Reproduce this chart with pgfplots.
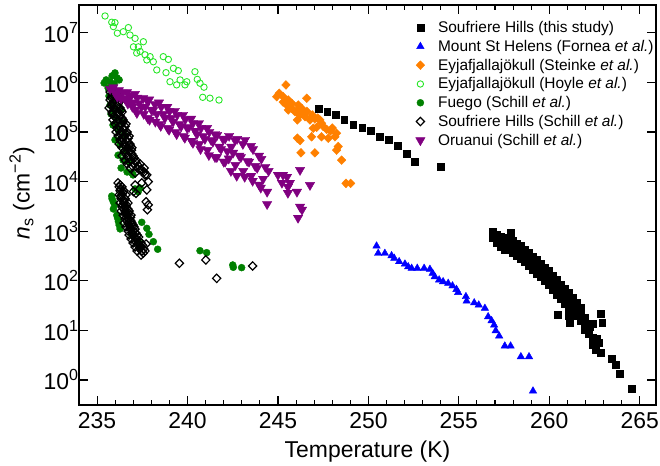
\documentclass[border=0pt]{standalone}
\usepackage{pgfplots}
\pgfplotsset{compat=1.18}
\usepackage{fontspec}
\setmainfont{Liberation Sans}
\definecolor{ltgreen}{RGB}{40,230,40}
\definecolor{dkgreen}{RGB}{0,128,0}
\definecolor{orng}{RGB}{255,128,0}
\definecolor{purp}{RGB}{128,0,128}
\begin{document}
\begin{tikzpicture}
\useasboundingbox (-79bp,-61bp) rectangle (581bp,405bp);
\begin{axis}[
  at={(0,0)}, anchor=south west,
  scale only axis, width=577bp, height=400bp,
  xmin=234, xmax=265.9,
  ymode=log, ymin=0.313, ymax=3.63e7,
  log basis y=10,
  xtick={235,240,...,265},
  minor x tick num=4,
  ytick={1,10,100,1000,1e4,1e5,1e6,1e7},
  /pgf/number format/assume math mode=true,
  log number format basis/.code 2 args={#1\textsuperscript{\pgfmathprintnumber{#2}}},
  tick align=inside,
  major tick length=9bp, minor tick length=5bp,
  every tick/.style={line width=1.1bp, black},
  axis line style={line width=1.4bp},
  tick label style={font=\fontsize{23}{26}\selectfont},
  label style={font=\fontsize{23}{26}\selectfont},
  xticklabel style={yshift=-4bp},
  yticklabel style={xshift=3bp},
  xlabel={Temperature (K)},
  xlabel style={yshift=-5bp},
  ylabel={\textit{n}\textsubscript{s} (cm\textsuperscript{−2})},
  ylabel style={at={(axis description cs:-0.099,0.53)}, anchor=center},
  legend cell align=left,
  legend image code/.code={\path (-5bp,0bp) (5bp,0bp); \draw[#1] plot coordinates {(0bp,0bp)};},
  legend style={at={(axis description cs:0.5823,0.9635)}, anchor=north west,
    draw=none, fill=none, inner sep=0pt, column sep=11bp, row sep=3.1bp,
    nodes={inner sep=1.5bp}, font=\fontsize{15.5}{18.5}\selectfont},
]
% Soufriere Hills, this study
\addplot[only marks, mark=square*, mark size=3.4bp, color=black] coordinates {
 (247.23,3.0e5) (247.72,2.6e5) (248.19,2.2e5) (248.66,1.8e5) (249.16,1.4e5)
 (249.66,1.2e5) (250.14,1.07e5) (250.64,8.1e4) (251.13,6.9e4) (251.63,5.2e4)
 (252.11,3.6e4) (252.57,2.5e4) (254.00,1.97e4)
 (256.88,964) (256.88,729) (257.10,838) (257.10,578)
 (257.32,764) (257.32,634) (257.32,480)
 (257.54,729) (257.54,527) (257.54,418)
 (257.76,665) (257.76,458) (257.87,920)
 (257.98,634) (257.98,480) (257.98,363)
 (258.20,552) (258.20,418) (258.20,316)
 (258.43,503) (258.43,363) (258.43,275)
 (258.65,418) (258.65,302) (258.65,239)
 (258.87,363) (258.87,263) (258.87,199)
 (259.09,302) (259.09,218) (259.09,165)
 (259.31,263) (259.31,181) (259.31,137)
 (259.53,218) (259.53,158) (259.53,119)
 (259.75,181) (259.75,131) (259.75,99)
 (259.97,158) (259.97,109) (259.97,82)
 (260.19,125) (260.19,90) (260.19,65)
 (260.41,104) (260.41,72) (260.41,52)
 (260.64,82) (260.64,59) (260.64,43)
 (260.86,68) (260.86,49) (260.86,34)
 (261.08,57) (261.08,41) (261.08,28.3)
 (261.30,45) (261.30,32.5) (261.30,23.5)
 (261.52,37) (261.52,27.0) (261.52,19.5)
 (261.74,28.3) (261.74,20.4) (261.74,15.5)
 (261.96,17.8) (261.96,12.8) (261.96,10.2)
 (262.18,11.7) (262.18,8.46)
 (262.40,7.03) (262.40,5.08)
 (262.57,4.03)
 (260.47,20.4) (261.08,19.5) (261.13,14.1) (262.24,11.7) (262.40,13.5)
 (262.83,21.4) (262.92,14.1) (262.62,6.71) (262.73,5.57) (262.83,3.50)
 (263.44,2.65) (263.67,2.01) (263.90,1.32) (264.54,0.66)
};
\addlegendentry{Soufriere Hills (this study)}
% Mount St Helens
\addplot[only marks, mark=triangle*, mark size=4.3bp, color=blue] coordinates {
 (250.45,503) (250.54,358) (250.91,358) (251.28,321) (251.43,284)
 (251.70,243) (252.02,218) (252.20,192) (252.39,179) (252.70,179)
 (253.08,179) (253.40,171) (253.55,142) (253.67,121) (253.91,104)
 (254.13,96) (254.41,89) (254.65,79) (254.87,67) (254.96,58)
 (255.39,48) (255.43,39) (255.85,36) (256.10,32.5) (256.44,27.9)
 (256.62,18.9) (256.81,15.7) (256.95,12.8) (257.04,9.86) (257.23,7.71)
 (257.54,4.85) (257.86,4.85) (258.43,2.95) (258.88,2.95) (259.10,0.60)
};
\addlegendentry{Mount St Helens (Fornea \textit{et al.})}
% Eyjafjallajokull, Steinke
\addplot[only marks, mark=diamond*, mark size=4.4bp, mark options={xscale=1.3}, color=orng] coordinates {
 (245.44,8.87e5) (245.07,6.03e5) (244.93,5.15e5) (245.29,5.15e5) (245.57,4.42e5)
 (245.76,3.79e5) (245.48,3.50e5) (246.59,4.78e5) (246.12,3.50e5) (246.31,3.00e5)
 (245.94,2.57e5) (246.22,2.20e5) (246.49,2.03e5) (246.77,1.75e5) (246.07,1.75e5)
 (247.04,1.83e5) (247.32,1.75e5) (247.41,1.50e5) (246.95,1.19e5) (247.14,1.24e5)
 (247.69,1.13e5) (248.24,9.4e4) (246.86,8.0e4) (247.41,8.0e4) (247.78,7.5e4)
 (248.15,8.0e4) (246.07,7.5e4) (246.22,6.7e4) (248.33,5.1e4) (248.24,4.3e4)
 (246.27,3.8e4) (247.04,3.8e4) (248.52,2.7e4) (248.76,9.2e3) (249.02,9.2e3)
 (246.03,2.57e5) (245.57,2.78e5) (245.29,4.0e5) (245.76,3.0e5) (246.40,2.5e5)
 (246.60,2.6e5) (246.90,2.2e5) (247.20,1.9e5) (247.50,1.3e5) (247.90,1.05e5)
 (248.00,1.2e5)
};
\addlegendentry{Eyjafjallajökull (Steinke \textit{et al.})}
% Eyjafjallajokull, Hoyle
\addplot[only marks, mark=o, mark size=3.2bp, mark options={line width=0.9bp}, color=ltgreen] coordinates {
 (235.44,2.18e7) (235.81,1.63e7) (235.99,1.60e7) (235.90,1.33e7) (236.12,9.8e6)
 (236.45,1.05e7) (236.73,1.27e7) (236.82,9.0e6) (237.10,7.7e6) (237.01,5.2e6)
 (237.28,5.2e6) (237.56,6.6e6) (237.19,3.9e6) (237.38,4.2e6) (237.65,3.6e6)
 (237.93,3.3e6) (237.75,2.83e6) (238.11,2.6e6) (238.30,1.78e6) (238.66,3.3e6)
 (238.94,2.9e6) (238.81,1.57e6) (239.22,1.92e6) (239.49,1.72e6) (239.03,1.03e6)
 (239.40,8.9e5) (239.59,1.12e6) (239.86,8.9e5) (239.96,1.03e6) (240.41,1.64e6)
 (240.54,1.15e6) (240.69,9.6e5) (240.91,8.0e5) (240.84,5.0e5) (241.24,4.8e5)
 (241.74,4.4e5)
};
\addlegendentry{Eyjafjallajökull (Hoyle \textit{et al.})}
% Fuego, Schill
\addplot[only marks, mark=*, mark size=3.5bp, color=dkgreen] coordinates {
 (235.99,1.55e6) (235.83,1.35e6) (236.10,1.23e6) (235.50,1.12e6) (235.72,1.02e6)
 (235.94,9.3e5) (236.22,1.12e6) (235.39,9.7e5) (235.61,7.7e5) (235.88,7.0e5)
 (236.16,6.4e5) (235.66,5.3e5) (235.94,4.4e5) (236.27,4.8e5) (235.72,3.5e5)
 (235.99,3.05e5) (236.33,2.78e5) (235.77,2.31e5) (236.05,1.92e5) (236.38,1.59e5)
 (235.88,1.38e5) (236.16,1.10e5) (236.49,8.7e4) (235.99,6.9e4) (236.27,5.5e4)
 (236.60,4.3e4) (236.16,3.4e4) (236.44,2.7e4) (236.77,2.5e4) (236.33,1.88e4)
 (236.66,1.56e4) (236.99,1.36e4) (236.92,1.49e4) (237.10,7.1e3) (237.27,6.2e3)
 (237.38,7.4e3)
 (235.81,5.1e3) (235.83,4.5e3) (235.90,3.9e3) (235.97,3.4e3) (235.90,2.8e3)
 (236.09,2.1e3) (236.13,1.85e3) (236.18,1.56e3) (236.22,1.33e3) (236.27,1.11e3)
 (237.47,1.51e3) (237.75,1.14e3) (237.87,865) (236.92,838) (238.11,614)
 (238.35,432) (237.28,614) (240.69,404) (241.06,369) (242.50,208)
 (242.53,187) (242.99,184)
};
\addlegendentry{Fuego (Schill \textit{et al.})}
% Soufriere Hills, Schill
\addplot[only marks, mark=diamond, mark size=4.2bp, mark options={xscale=1.3, line width=1.2bp}, color=black] coordinates {
 (235.72,6.4e5) (236.05,6.4e5) (235.83,5.3e5) (236.16,5.3e5)
 (235.72,4.4e5) (235.99,4.4e5) (236.27,4.4e5) (235.83,3.67e5) (236.16,3.67e5)
 (235.66,3.05e5) (235.94,3.05e5) (236.27,3.05e5) (235.83,2.53e5) (236.16,2.53e5)
 (236.38,2.53e5) (235.94,2.10e5) (236.27,2.10e5) (235.88,1.75e5) (236.16,1.75e5)
 (236.44,1.75e5) (235.99,1.45e5) (236.33,1.45e5) (236.60,1.45e5) (236.10,1.20e5)
 (236.44,1.20e5) (236.05,1.0e5) (236.33,1.0e5) (236.66,1.0e5) (236.16,8.3e4)
 (236.49,8.3e4) (236.77,8.3e4) (236.27,6.9e4) (236.60,6.9e4) (236.22,5.7e4)
 (236.49,5.7e4) (236.82,5.7e4) (236.38,4.8e4) (236.66,4.8e4) (236.93,4.8e4)
 (236.49,3.95e4) (236.82,3.95e4) (236.38,3.3e4) (236.66,3.3e4) (236.99,3.3e4)
 (236.55,2.7e4) (236.88,2.7e4) (237.15,2.7e4) (236.66,2.26e4) (237.04,2.26e4)
 (237.38,2.26e4) (236.82,1.88e4) (237.21,1.88e4) (237.60,1.88e4)
 (235.88,6.0e5) (235.77,4.9e5) (236.10,4.9e5) (235.90,4.0e5) (236.22,4.0e5)
 (235.80,3.3e5) (236.10,3.3e5) (236.00,2.75e5) (236.33,2.75e5) (235.85,2.3e5)
 (236.16,2.3e5) (236.05,1.9e5) (236.38,1.9e5) (236.10,1.6e5) (236.44,1.6e5)
 (236.22,1.3e5) (236.55,1.3e5) (236.20,1.1e5) (236.50,1.1e5) (236.30,9.0e4)
 (236.62,9.0e4) (236.40,7.5e4) (236.72,7.5e4) (236.38,6.3e4) (236.70,6.3e4)
 (236.55,5.2e4) (236.85,5.2e4) (236.55,4.3e4) (236.90,4.3e4) (236.60,3.6e4)
 (236.92,3.6e4) (236.72,3.0e4) (237.05,3.0e4) (236.78,2.45e4) (237.15,2.45e4)
 (236.95,2.05e4) (237.30,2.05e4) (237.45,1.75e4)
 (237.10,1.49e4) (237.75,1.36e4) (237.47,9.4e3) (237.01,6.3e3) (237.65,1.36e4)
 (237.83,9.95e3) (237.75,6.8e3) (237.10,8.5e3) (237.15,5.8e3) (237.71,3.9e3)
 (237.83,3.4e3) (237.78,2.7e3) (237.38,1.71e4) (237.60,1.56e4)
 (236.16,9.4e3) (236.22,7.8e3) (236.38,7.8e3) (236.27,6.5e3) (236.49,6.5e3)
 (236.22,5.4e3) (236.38,5.4e3) (236.60,5.4e3) (236.33,4.5e3) (236.55,4.5e3)
 (236.27,3.7e3) (236.49,3.7e3) (236.71,3.7e3) (236.38,3.08e3) (236.60,3.08e3)
 (236.33,2.55e3) (236.55,2.55e3) (236.77,2.55e3) (236.44,2.1e3) (236.66,2.1e3)
 (236.88,2.1e3) (236.55,1.76e3) (236.77,1.76e3) (236.49,1.46e3) (236.71,1.46e3)
 (236.93,1.46e3) (236.60,1.22e3) (236.82,1.22e3) (237.04,1.22e3) (236.71,1.01e3)
 (236.99,1.01e3) (236.77,838) (237.04,838) (237.21,838) (236.88,697)
 (237.15,697) (236.99,578) (237.27,578) (237.43,578) (237.10,480)
 (237.38,480) (237.21,399) (237.49,399) (237.65,399) (237.43,331)
 (237.71,552)
 (236.27,8.5e3) (236.30,7.0e3) (236.44,6.0e3) (236.30,5.0e3) (236.50,4.1e3)
 (236.40,3.4e3) (236.62,3.4e3) (236.46,2.8e3) (236.70,2.8e3) (236.55,2.3e3)
 (236.75,2.3e3) (236.62,1.9e3) (236.85,1.9e3) (236.66,1.6e3) (236.88,1.6e3)
 (236.78,1.33e3) (237.00,1.33e3) (236.85,1.1e3) (237.10,1.1e3) (236.95,920)
 (237.15,920) (237.05,760) (237.30,760) (237.10,630) (237.35,630)
 (237.25,520) (237.52,520) (237.35,440) (237.58,440) (237.55,360)
 (239.55,225) (241.01,263) (241.61,112) (243.60,199)
};
\addlegendentry{Soufriere Hills (Schill \textit{et al.})}
% Oruanui, Schill
\addplot[only marks, mark=triangle*, mark size=5.4bp, mark options={rotate=180}, color=purp] coordinates {
 (235.72,7.36e5) (235.90,7.9e5) (236.00,6.0e5) (236.20,6.9e5) (236.12,5.1e5)
 (236.42,6.2e5) (236.33,4.7e5) (236.65,6.3e5) (236.55,4.6e5) (236.70,3.7e5)
 (236.86,5.5e5) (236.78,4.6e5) (236.95,3.2e5) (237.09,5.8e5) (237.00,3.9e5)
 (237.12,2.8e5) (237.22,4.9e5) (237.33,3.8e5) (237.20,2.4e5) (237.55,4.8e5)
 (237.45,3.2e5) (237.58,2.3e5) (237.78,4.2e5) (237.66,3.2e5) (237.80,1.9e5)
 (237.88,4.5e5) (238.00,2.8e5) (237.90,1.75e5) (238.20,3.6e5) (238.10,2.75e5)
 (238.22,1.6e5) (238.42,3.9e5) (238.30,2.3e5) (238.45,1.45e5) (238.55,3.2e5)
 (238.66,2.3e5) (238.52,1.32e5) (238.88,3.2e5) (238.75,1.9e5) (238.90,1.2e5)
 (239.00,2.6e5) (239.10,1.9e5) (238.98,1.1e5) (239.30,2.65e5) (239.20,1.6e5)
 (239.33,1.0e5) (239.43,2.2e5) (239.55,1.45e5) (239.40,9.0e4) (239.75,2.2e5)
 (239.65,1.3e5) (239.78,8.3e4) (239.88,1.8e5) (239.98,1.2e5) (239.85,7.6e4)
 (240.20,1.85e5) (240.08,1.25e5) (240.22,6.6e4) (240.30,1.5e5) (240.42,1.05e5)
 (240.30,6.0e4) (240.63,1.5e5) (240.52,9.0e4) (240.65,5.7e4) (240.75,1.2e5)
 (240.86,8.3e4) (240.72,4.5e4) (241.08,1.2e5) (240.96,7.2e4) (241.10,4.3e4)
 (241.20,1.0e5) (241.30,6.9e4) (241.18,3.4e4) (241.52,9.0e4) (241.40,6.3e4)
 (241.52,3.1e4) (241.64,8.7e4) (241.75,5.0e4) (241.62,3.1e4) (241.96,7.2e4)
 (241.85,4.5e4) (242.00,2.5e4) (242.08,7.3e4) (242.20,4.1e4) (242.08,2.5e4)
 (242.30,8.3e4) (242.42,5.0e4) (242.28,2.9e4) (242.40,1.63e4) (242.62,6.9e4)
 (242.52,3.8e4) (242.65,2.15e4) (242.74,7.2e4) (242.86,3.3e4) (242.72,1.3e4)
 (243.06,5.7e4) (242.95,3.1e4) (243.08,1.63e4) (243.18,6.9e4) (243.30,2.6e4)
 (243.16,1.24e4) (243.50,5.2e4) (243.40,2.5e4) (243.52,1.3e4) (243.62,4.5e4)
 (243.74,2.05e4) (243.60,1.03e4) (243.95,3.3e4) (243.85,1.88e4) (243.96,8.6e3)
 (244.08,2.85e4) (244.18,1.13e4) (244.05,7.5e3) (244.30,1.97e4) (244.40,6.2e3)
 (244.48,1.63e4) (244.40,3.5e3)
 (245.00,1.36e4) (245.22,9.4e3) (245.50,1.24e4) (245.66,9.4e3) (245.55,5.9e3)
 (246.05,6.2e3) (246.22,1.71e4) (246.77,8.5e3) (246.22,3.1e3) (246.33,2.7e3)
 (246.11,1.85e3) (245.28,1.36e4) (245.55,7.8e3)
};
\addlegendentry{Oruanui (Schill \textit{et al.})}
\end{axis}
\end{tikzpicture}
\end{document}
